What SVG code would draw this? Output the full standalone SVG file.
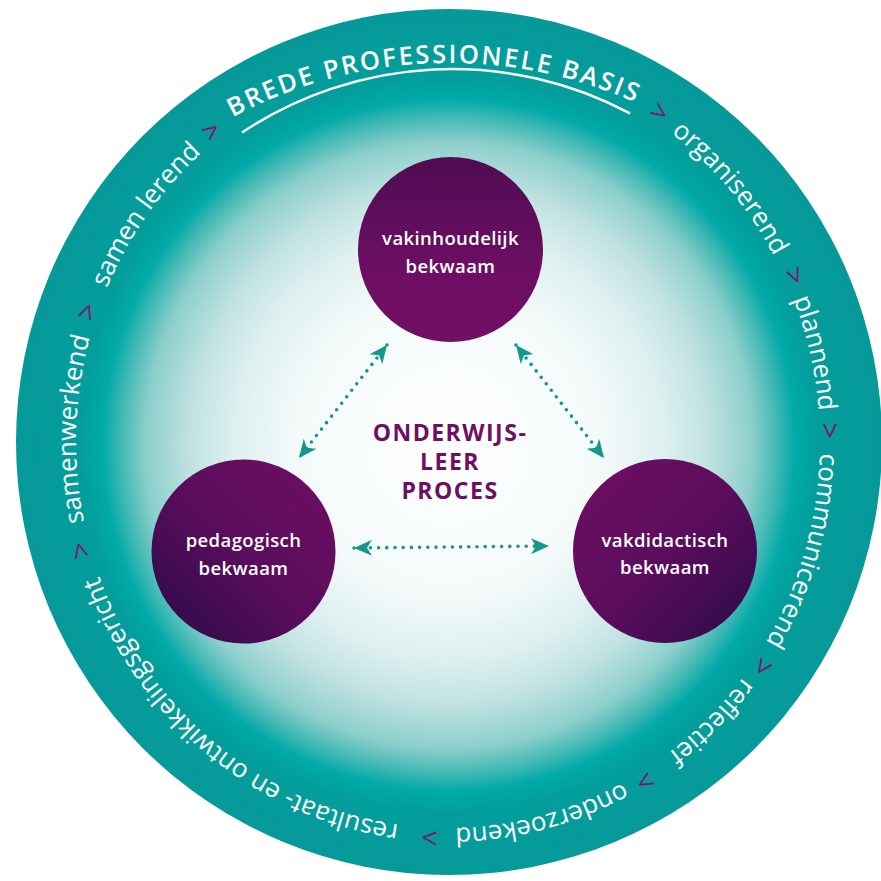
<svg xmlns="http://www.w3.org/2000/svg" xmlns:xlink="http://www.w3.org/1999/xlink" width="881" height="881" viewBox="0 0 881 881">
<style>
.ring{font-family:"Open Sans","Liberation Sans",sans-serif;font-size:26px;font-weight:370;fill:#ffffff;}
.chev{fill:#7b1670;font-size:29px;font-weight:400;}
.head{font-family:"Open Sans","Liberation Sans",sans-serif;font-size:25.5px;font-weight:600;fill:#ffffff;letter-spacing:2.3px;}
.lbl{font-family:"Open Sans","Liberation Sans",sans-serif;font-size:18.5px;font-weight:600;fill:#ffffff;text-anchor:middle;letter-spacing:0.4px;}
.core{font-family:"Open Sans","Liberation Sans",sans-serif;font-size:23px;font-weight:700;fill:#6e0f63;text-anchor:middle;letter-spacing:1.5px;}
.dots{fill:none;stroke:#15968f;stroke-width:3.6;stroke-linecap:round;stroke-dasharray:0 8.2;marker-start:url(#head);marker-end:url(#head);}
</style>
<defs>
<radialGradient id="bg" cx="449" cy="445" r="433" gradientUnits="userSpaceOnUse">
<stop offset="0" stop-color="#ffffff"/>
<stop offset="0.35" stop-color="#f4fafa"/>
<stop offset="0.5" stop-color="#ddefef"/>
<stop offset="0.6" stop-color="#c0e2e1"/>
<stop offset="0.7" stop-color="#8ccfcc"/>
<stop offset="0.76" stop-color="#3fb8b4"/>
<stop offset="0.8" stop-color="#00aaa8"/>
<stop offset="0.85" stop-color="#029e9c"/>
<stop offset="1" stop-color="#079999"/>
</radialGradient>
<linearGradient id="gTop" x1="0" y1="0" x2="0" y2="1">
<stop offset="0" stop-color="#4e0c52"/>
<stop offset="0.6" stop-color="#6c0e62"/>
<stop offset="1" stop-color="#720f64"/>
</linearGradient>
<linearGradient id="gLeft" x1="0" y1="1" x2="1" y2="0">
<stop offset="0" stop-color="#2a0a47"/>
<stop offset="0.5" stop-color="#5a0d5c"/>
<stop offset="1" stop-color="#700e63"/>
</linearGradient>
<linearGradient id="gRight" x1="0" y1="0" x2="1" y2="1">
<stop offset="0" stop-color="#700e63"/>
<stop offset="0.5" stop-color="#5c0d5d"/>
<stop offset="1" stop-color="#2a0a47"/>
</linearGradient>
<marker id="head" viewBox="0 0 18 16" refX="18" refY="8" markerWidth="18" markerHeight="16" markerUnits="userSpaceOnUse" orient="auto-start-reverse">
<path d="M0,0 L18,8 L0,16 L5,8 Z" fill="#15968f"/>
</marker>
<path id="ringPath" d="M448,56 A372,386 0 0 1 448,828 A372,386 0 0 1 448,56 A372,386 0 0 1 448,828"/>
<path id="headPath" d="M53.2,291.5 A457,457 0 0 1 844.8,291.5"/>
</defs>

<g id="background">
<circle cx="449" cy="442" r="433" fill="url(#bg)"/>
</g>

<g id="ring-text">
<text class="head"><textPath xlink:href="#headPath" startOffset="462.6" text-anchor="middle">BREDE PROFESSIONELE BASIS</textPath></text>
<path d="M242,132.5 A379,379 0 0 1 630,113.4" fill="none" stroke="#ffffff" stroke-width="2.5"/>
<text class="ring chev"><textPath xlink:href="#ringPath" startOffset="219" text-anchor="middle">&gt;</textPath></text>
<text class="ring"><textPath xlink:href="#ringPath" startOffset="321" text-anchor="middle">organiserend</textPath></text>
<text class="ring chev"><textPath xlink:href="#ringPath" startOffset="428" text-anchor="middle">&gt;</textPath></text>
<text class="ring"><textPath xlink:href="#ringPath" startOffset="506.5" text-anchor="middle">plannend</textPath></text>
<text class="ring chev"><textPath xlink:href="#ringPath" startOffset="584" text-anchor="middle">&gt;</textPath></text>
<text class="ring"><textPath xlink:href="#ringPath" startOffset="706" text-anchor="middle">communicerend</textPath></text>
<text class="ring chev"><textPath xlink:href="#ringPath" startOffset="827.5" text-anchor="middle">&gt;</textPath></text>
<text class="ring"><textPath xlink:href="#ringPath" startOffset="900.5" text-anchor="middle">reflectief</textPath></text>
<text class="ring chev"><textPath xlink:href="#ringPath" startOffset="988.2" text-anchor="middle">&gt;</textPath></text>
<text class="ring"><textPath xlink:href="#ringPath" startOffset="1095.3" text-anchor="middle">onderzoekend</textPath></text>
<text class="ring chev"><textPath xlink:href="#ringPath" startOffset="1208.4" text-anchor="middle">&gt;</textPath></text>
<text class="ring"><textPath xlink:href="#ringPath" startOffset="1444.2" text-anchor="middle">resultaat- en ontwikkelingsgericht</textPath></text>
<text class="ring chev"><textPath xlink:href="#ringPath" startOffset="1678.6" text-anchor="middle">&gt;</textPath></text>
<text class="ring"><textPath xlink:href="#ringPath" startOffset="1798.4" text-anchor="middle">samenwerkend</textPath></text>
<text class="ring chev"><textPath xlink:href="#ringPath" startOffset="1914.9" text-anchor="middle">&gt;</textPath></text>
<text class="ring"><textPath xlink:href="#ringPath" startOffset="2026.5" text-anchor="middle">samen lerend</textPath></text>
<text class="ring chev"><textPath xlink:href="#ringPath" startOffset="2131.1" text-anchor="middle">&gt;</textPath></text>
</g>

<g id="connectors">
<path class="dots" d="M387,345 L299,458"/>
<path class="dots" d="M516,345 L604,458"/>
<path class="dots" d="M354,548 L549,546"/>
</g>

<g id="node-vakinhoudelijk">
<circle cx="450.5" cy="249.5" r="92.5" fill="url(#gTop)"/>
<text class="lbl" x="450.5" y="245">vakinhoudelijk</text>
<text class="lbl" x="450.5" y="273">bekwaam</text>
</g>

<g id="node-pedagogisch">
<circle cx="243.5" cy="551.5" r="92" fill="url(#gLeft)"/>
<text class="lbl" x="243.5" y="547">pedagogisch</text>
<text class="lbl" x="243.5" y="575">bekwaam</text>
</g>

<g id="node-vakdidactisch">
<circle cx="665" cy="551" r="92" fill="url(#gRight)"/>
<text class="lbl" x="665" y="547">vakdidactisch</text>
<text class="lbl" x="665" y="574">bekwaam</text>
</g>

<g id="center-label">
<text class="core" x="450" y="441">ONDERWIJS-</text>
<text class="core" x="450" y="470">LEER</text>
<text class="core" x="450" y="499">PROCES</text>
</g>
</svg>
